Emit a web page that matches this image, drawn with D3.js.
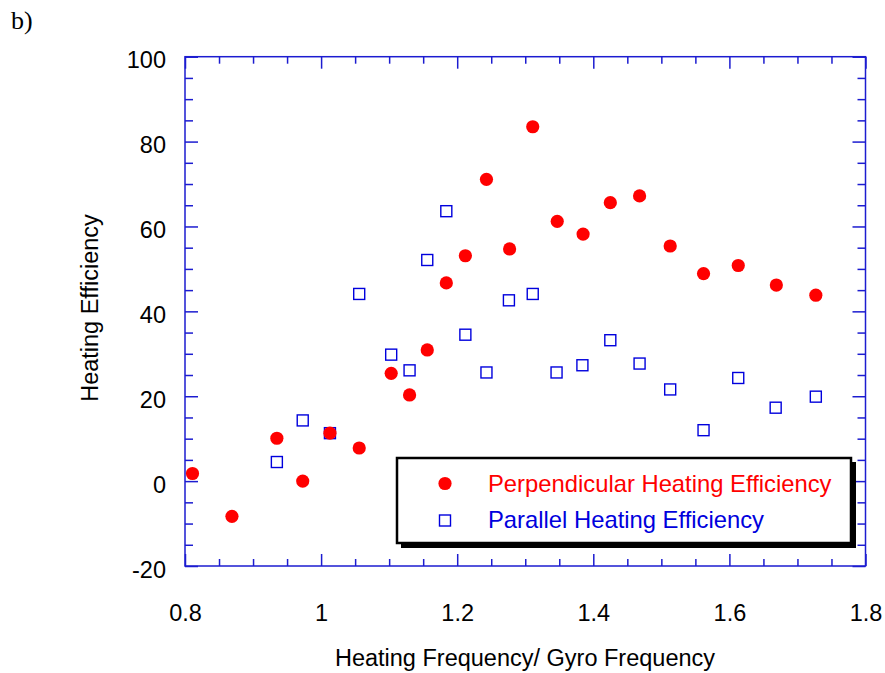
<!DOCTYPE html>
<html>
<head>
<meta charset="utf-8">
<script src="https://cdn.jsdelivr.net/npm/d3@7"></script>
<style>
  html, body { margin: 0; padding: 0; background: #fff; }
  svg { display: block; }
</style>
</head>
<body>
<svg id="chart" width="885" height="673"></svg>
<script>
// Frequency ratio (heating / gyro) for each run
const perpRatio = [0.811, 0.869, 0.935, 0.973, 1.013, 1.056, 1.103, 1.130, 1.156, 1.184, 1.212, 1.243,
                   1.277, 1.311, 1.347, 1.385, 1.425, 1.468, 1.513, 1.562, 1.613, 1.669, 1.727];
const perpEff   = [1.8, -8.3, 10.1, 0.0, 11.3, 7.8, 25.4, 20.3, 30.9, 46.7, 53.1, 71.1,
                   54.7, 83.5, 61.2, 58.2, 65.6, 67.2, 55.4, 48.9, 50.8, 46.2, 43.8];

const paraRatio = [0.935, 0.973, 1.013, 1.056, 1.103, 1.130, 1.156, 1.184, 1.212, 1.243, 1.276,
                   1.311, 1.346, 1.384, 1.425, 1.468, 1.513, 1.562, 1.613, 1.668, 1.727];
const paraEff   = [4.5, 14.3, 11.3, 44.1, 29.8, 26.1, 52.1, 63.6, 34.5, 25.6, 42.6,
                   44.1, 25.6, 27.3, 33.2, 27.7, 21.6, 12.0, 24.3, 17.3, 19.9];

const xTicks = [0.8, 1.0, 1.2, 1.4, 1.6, 1.8];
const xTickLabels = ["0.8", "1", "1.2", "1.4", "1.6", "1.8"];
const yTicks = [-20, 0, 20, 40, 60, 80, 100];
const yTickLabels = ["-20", "0", "20", "40", "60", "80", "100"];

const seriesNames = ["Perpendicular Heating Efficiency", "Parallel Heating Efficiency"];

const svg = d3.select("#chart");
const plotL = 185, plotR = 865.5, plotT = 56.7, plotB = 566;
const axisColor = "#1c1cd0";
const sans = "'Liberation Sans', Arial, sans-serif";
const fs = 23.5;

const x = d3.scaleLinear().domain([0.8, 1.8]).range([plotL, plotR]);
const y = d3.scaleLinear().domain([-20, 100]).range([plotB, plotT]);

const xMinor = d3.range(0.8, 1.8001, 0.05).filter(v => !xTicks.some(t => Math.abs(t - v) < 1e-6));
const yMinor = d3.range(-20, 100.001, 5).filter(v => !yTicks.some(t => Math.abs(t - v) < 1e-6));

function styleAxis(g) {
  g.select(".domain").remove();
  g.selectAll(".tick line").attr("stroke", axisColor).attr("stroke-width", 1.5);
}

// Minor ticks on all four sides, pointing inward
svg.append("g").attr("transform", `translate(0,${plotB})`)
  .call(d3.axisBottom(x).tickValues(xMinor).tickSize(-7).tickFormat(""))
  .call(styleAxis);
svg.append("g").attr("transform", `translate(0,${plotT})`)
  .call(d3.axisTop(x).tickValues(xMinor).tickSize(-7).tickFormat(""))
  .call(styleAxis);
svg.append("g").attr("transform", `translate(${plotL},0)`)
  .call(d3.axisLeft(y).tickValues(yMinor).tickSize(-8).tickFormat(""))
  .call(styleAxis);
svg.append("g").attr("transform", `translate(${plotR},0)`)
  .call(d3.axisRight(y).tickValues(yMinor).tickSize(-8).tickFormat(""))
  .call(styleAxis);

// Major ticks
const xAxis = svg.append("g").attr("transform", `translate(0,${plotB})`)
  .call(d3.axisBottom(x).tickValues(xTicks).tickSize(-12)
        .tickFormat((d, i) => xTickLabels[i]))
  .call(styleAxis);
xAxis.selectAll(".tick text")
  .attr("y", 47).attr("dy", "0.35em")
  .attr("fill", "#000").attr("font-size", fs)
  .attr("font-family", sans);

svg.append("g").attr("transform", `translate(0,${plotT})`)
  .call(d3.axisTop(x).tickValues(xTicks).tickSize(-12).tickFormat(""))
  .call(styleAxis);

const yAxis = svg.append("g").attr("transform", `translate(${plotL},0)`)
  .call(d3.axisLeft(y).tickValues(yTicks).tickSize(-13)
        .tickFormat((d, i) => yTickLabels[i]))
  .call(styleAxis);
yAxis.selectAll(".tick text")
  .attr("x", -19).attr("dy", "0.48em")
  .attr("fill", "#000").attr("font-size", fs)
  .attr("font-family", sans);

svg.append("g").attr("transform", `translate(${plotR},0)`)
  .call(d3.axisRight(y).tickValues(yTicks).tickSize(-13).tickFormat(""))
  .call(styleAxis);

// Frame
svg.append("rect")
  .attr("x", plotL).attr("y", plotT)
  .attr("width", plotR - plotL).attr("height", plotB - plotT)
  .attr("fill", "none").attr("stroke", axisColor).attr("stroke-width", 1.5);

// Parallel efficiency: open squares
const sq = 11;
svg.append("g").selectAll("rect")
  .data(paraRatio.map((r, i) => [r, paraEff[i]]))
  .join("rect")
  .attr("x", d => x(d[0]) - sq / 2).attr("y", d => y(d[1]) - sq / 2)
  .attr("width", sq).attr("height", sq)
  .attr("fill", "none").attr("stroke", "#0000dd").attr("stroke-width", 1.4);

// Perpendicular efficiency: filled circles
svg.append("g").selectAll("circle")
  .data(perpRatio.map((r, i) => [r, perpEff[i]]))
  .join("circle")
  .attr("cx", d => x(d[0])).attr("cy", d => y(d[1]))
  .attr("r", 6.6).attr("fill", "#ff0000");

// Legend with drop shadow
const lg = svg.append("g");
lg.append("rect").attr("x", 401).attr("y", 462).attr("width", 455).attr("height", 86).attr("fill", "#000");
lg.append("rect").attr("x", 397).attr("y", 458).attr("width", 454).attr("height", 85)
  .attr("fill", "#fff").attr("stroke", "#000").attr("stroke-width", 2.5);
lg.append("circle").attr("cx", 445).attr("cy", 483.5).attr("r", 6.6).attr("fill", "#ff0000");
lg.append("rect").attr("x", 445 - 5.5).attr("y", 520.5 - 5.5).attr("width", 11).attr("height", 11)
  .attr("fill", "none").attr("stroke", "#0000dd").attr("stroke-width", 1.4);
lg.append("text").attr("x", 488).attr("y", 492).attr("font-size", 23.8).attr("font-family", sans)
  .attr("fill", "#ff0000").text(seriesNames[0]);
lg.append("text").attr("x", 488).attr("y", 528).attr("font-size", 23.8).attr("font-family", sans)
  .attr("fill", "#0000dd").text(seriesNames[1]);

// Axis titles
svg.append("text").attr("x", 525).attr("y", 666).attr("text-anchor", "middle")
  .attr("font-size", fs).attr("font-family", sans).attr("fill", "#000")
  .text("Heating Frequency/ Gyro Frequency");
svg.append("text").attr("transform", "translate(98,308) rotate(-90)").attr("text-anchor", "middle")
  .attr("font-size", fs).attr("font-family", sans).attr("fill", "#000")
  .text("Heating Efficiency");

// Panel label
svg.append("text").attr("x", 11).attr("y", 29)
  .attr("font-family", "'Liberation Serif', 'Times New Roman', serif").attr("font-size", 26).attr("fill", "#000")
  .text("b)");
</script>
</body>
</html>
